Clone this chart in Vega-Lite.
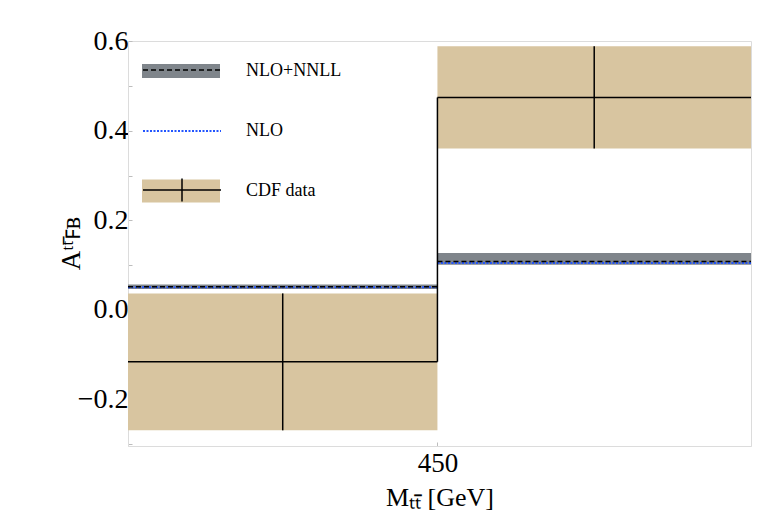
{
  "$schema": "https://vega.github.io/schema/vega-lite/v6.json",
  "width": 623,
  "height": 405,
  "autosize": {"type": "none"},
  "padding": {"left": 128, "top": 41, "right": 29, "bottom": 80},
  "background": "white",
  "config": {
    "font": "Liberation Serif",
    "view": {"stroke": "#dcdcdc", "strokeWidth": 1},
    "axis": {
      "labelFont": "Liberation Serif",
      "titleFont": "Liberation Serif",
      "domainColor": "#dcdcdc",
      "tickColor": "#bdbdbd",
      "labelColor": "black",
      "titleColor": "black",
      "titleFontWeight": "normal",
      "grid": false
    },
    "legend": {"labelFont": "Liberation Serif"}
  },
  "datasets": {
    "bins": [
      {"lo": 300, "hi": 450, "mid": 375, "cdf": -0.116, "cdf_lo": -0.269, "cdf_hi": 0.037, "nnll": 0.052, "nnll_lo": 0.047, "nnll_hi": 0.057, "nlo": 0.051},
      {"lo": 450, "hi": 602, "mid": 526, "cdf": 0.475, "cdf_lo": 0.361, "cdf_hi": 0.589, "nnll": 0.108, "nnll_lo": 0.101, "nnll_hi": 0.127, "nlo": 0.105}
    ],
    "jump": [{"m": 450, "cdf_left": -0.116, "cdf_right": 0.475}]
  },
  "layer": [
    {
      "data": {"name": "bins"},
      "mark": {"type": "rect"},
      "encoding": {
        "x": {"field": "lo", "type": "quantitative", "scale": {"domain": [300, 602], "nice": false, "zero": false},
          "axis": {"values": [450], "tickSize": -4, "labelFont": "Liberation Serif", "labelFontSize": 27, "labelPadding": 8, "title": "Mₜₜ̄  [GeV]", "titleFont": "Liberation Serif", "titleFontSize": 26, "titlePadding": 8, "domainColor": "#dcdcdc"}},
        "x2": {"field": "hi"},
        "y": {"field": "cdf_lo", "type": "quantitative", "scale": {"domain": [-0.304, 0.601], "nice": false, "zero": false},
          "axis": {"values": [-0.3, -0.25, -0.2, -0.15, -0.1, -0.05, 0, 0.05, 0.1, 0.15, 0.2, 0.25, 0.3, 0.35, 0.4, 0.45, 0.5, 0.55, 0.6],
            "labelExpr": "abs(datum.value*5 - round(datum.value*5)) < 0.001 ? format(datum.value, '.1f') : ''",
            "tickSize": -4, "labelFont": "Liberation Serif", "labelFontSize": 28, "labelPadding": 4, "title": "Aᵗᵗ̄ꜰʙ", "titleFont": "Liberation Serif", "titleFontSize": 27, "titleX": -43, "titleY": 202}},
        "y2": {"field": "cdf_hi"},
        "fill": {"datum": "CDF data", "type": "nominal",
          "scale": {"domain": ["NLO+NNLL", "NLO", "CDF data"], "range": ["#7f858b", "transparent", "#d8c5a0"]},
          "legend": {"orient": "none", "legendX": 40, "legendY": 17, "title": null,
            "symbolType": "M-3,-0.54H3V0.54H-3Z", "symbolSize": 676, "symbolStrokeWidth": 0,
            "labelFont": "Liberation Serif", "labelFontSize": 18, "labelColor": "black", "labelOffset": 52, "rowPadding": 34,
            "labelExpr": "datum.value === 'NLO' ? '    NLO' : datum.label",
            "encode": {"symbols": {"update": {
              "shape": {"signal": "datum.value === 'CDF data' ? 'M-3,-0.94M-3,-0.88H3V0.88H-3ZM3,0.94' : 'M-3,-0.94M-3,-0.54H3V0.54H-3ZM3,0.94'"},
              "strokeWidth": {"value": 0}}}}}}
      }
    },
    {
      "data": {"name": "bins"},
      "mark": {"type": "rect"},
      "encoding": {
        "x": {"field": "lo", "type": "quantitative"},
        "x2": {"field": "hi"},
        "y": {"field": "nnll_lo", "type": "quantitative"},
        "y2": {"field": "nnll_hi"},
        "fill": {"datum": "NLO+NNLL", "type": "nominal"}
      }
    },
    {
      "mark": {"type": "rule", "color": "#c0c0c0", "strokeWidth": 1, "opacity": 0.6},
      "encoding": {"y": {"datum": 0, "type": "quantitative"}}
    },
    {
      "data": {"name": "bins"},
      "mark": {"type": "rule", "strokeDash": [2, 1.5], "strokeWidth": 2},
      "encoding": {
        "x": {"field": "lo", "type": "quantitative"},
        "x2": {"field": "hi"},
        "y": {"field": "nlo", "type": "quantitative"},
        "stroke": {"datum": "NLO line", "type": "nominal",
          "scale": {"domain": ["NLO+NNLL line", "NLO line", "CDF data line"], "range": ["black", "#2255ff", "black"]},
          "legend": {"orient": "none", "legendX": 45, "legendY": 17, "title": null,
            "symbolType": "M-3,0H3", "symbolSize": 676, "symbolStrokeWidth": 1.5,
            "labelFont": "Liberation Serif", "labelFontSize": 18, "labelColor": "transparent", "labelOffset": 400, "rowPadding": 34,
            "encode": {"symbols": {"update": {
              "shape": {"signal": "datum.value === 'CDF data line' ? 'M-3,-0.62H3M0,-1.5V0.26' : (datum.value === 'NLO+NNLL line' ? 'M-3,-0.88M-3,0.23H3M3,0.63' : 'M-3,-0.88M-3,0.15H3M3,0.55')"},
              "strokeDash": {"signal": "datum.value === 'NLO+NNLL line' ? [5, 3] : (datum.value === 'NLO line' ? [2, 1.5] : [1, 0])"},
              "strokeWidth": {"signal": "datum.value === 'NLO line' ? 2 : 1.5"},
              "fill": {"value": "transparent"}}}}}}
      }
    },
    {
      "data": {"name": "bins"},
      "mark": {"type": "rule", "strokeDash": [5, 3], "strokeWidth": 1.5},
      "encoding": {
        "x": {"field": "lo", "type": "quantitative"},
        "x2": {"field": "hi"},
        "y": {"field": "nnll", "type": "quantitative"},
        "stroke": {"datum": "NLO+NNLL line", "type": "nominal"}
      }
    },
    {
      "data": {"name": "bins"},
      "mark": {"type": "rule", "strokeWidth": 1.5},
      "encoding": {
        "x": {"field": "lo", "type": "quantitative"},
        "x2": {"field": "hi"},
        "y": {"field": "cdf", "type": "quantitative"},
        "stroke": {"datum": "CDF data line", "type": "nominal"}
      }
    },
    {
      "data": {"name": "bins"},
      "mark": {"type": "rule", "strokeWidth": 1.5},
      "encoding": {
        "x": {"field": "mid", "type": "quantitative"},
        "y": {"field": "cdf_lo", "type": "quantitative"},
        "y2": {"field": "cdf_hi"},
        "stroke": {"datum": "CDF data line", "type": "nominal"}
      }
    },
    {
      "data": {"name": "jump"},
      "mark": {"type": "rule", "strokeWidth": 1.5},
      "encoding": {
        "x": {"field": "m", "type": "quantitative"},
        "y": {"field": "cdf_left", "type": "quantitative"},
        "y2": {"field": "cdf_right"},
        "stroke": {"datum": "CDF data line", "type": "nominal"}
      }
    }
  ]
}
